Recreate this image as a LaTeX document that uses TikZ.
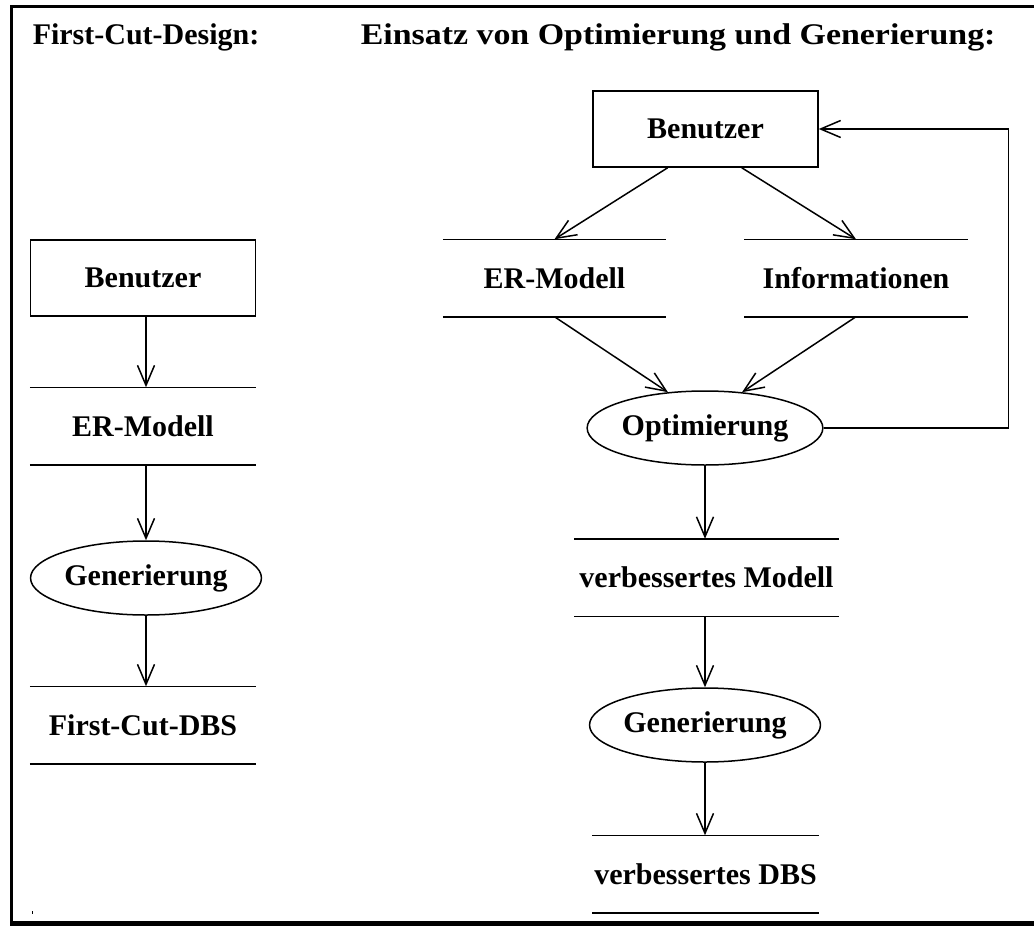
\documentclass[tikz,border=0pt]{standalone}
\usepackage{fontspec}
\usepackage{graphicx}
\setmainfont{Liberation Serif}
\usetikzlibrary{arrows.meta,shapes.geometric,calc}
\begin{document}
\begin{tikzpicture}[x=1pt,y=-1pt,
  font=\fontsize{30}{34}\selectfont\bfseries,
  line width=1.5pt,
  flow/.style={-{Straight Barb[length=20pt,width=17pt,line width=1.5pt]}},
  actor/.style={draw,rectangle,minimum width=225pt,minimum height=76pt,inner sep=0pt},
  process/.style={draw,ellipse,minimum width=224pt,minimum height=74pt,inner sep=0pt},
  store/.style={rectangle,minimum width=225pt,minimum height=76pt,inner sep=0pt},
  title/.style={anchor=base west,inner sep=0pt}]
\useasboundingbox (0,0) rectangle (1034,926);

% frame with shadowed bottom edge
\draw[line width=3pt] (1040,6) -- (11.5,6) -- (11.5,922);
\draw[line width=4.5pt] (10,923.5) -- (1040,923.5);
\fill (31.5,911) rectangle (33,914);

% headings
\node[title] (t1) at (32,45) {First-Cut-Design:};
\node[title] (t2) at (360,45) {\scalebox{1.13}[1]{Einsatz von Optimierung und Generierung:}};

% first-cut design chain
\node[actor]   (lb)  at (143,278) {Benutzer};
\node[store]   (ler) at (143,426) {ER-Modell};
\node[process] (lg)  at (146,578) {Generierung};
\node[store]   (ldb) at (143,725) {First-Cut-DBS};
\foreach \s in {ler,ldb}
  \draw (\s.north west) -- (\s.north east) (\s.south west) -- (\s.south east);
\draw[flow] (lb.south -| lg) -- (ler.north -| lg);
\draw[flow] (ler.south -| lg) -- (lg.north);
\draw[flow] (lg.south) -- (ldb.north -| lg);

% optimisation and generation chain
\node[actor]   (rb)  at (705.5,129) {Benutzer};
\node[store,minimum width=222pt] (rer) at (554.5,278) {ER-Modell};
\node[store,minimum width=222pt] (rin) at (856,278) {Informationen};
\node[process] (opt) at (705,428) {Optimierung};
\node[store,minimum width=263pt] (vm) at (706.5,577.5) {verbessertes Modell};
\node[process] (rg)  at (705,725) {Generierung};
\node[store] (vdb) at (705.5,874) {verbessertes DBS};
\foreach \s in {rer,rin,vm,vdb}
  \draw (\s.north west) -- (\s.north east) (\s.south west) -- (\s.south east);
\draw[flow] ($(rb.south west)!0.333!(rb.south east)$) -- (rer.north);
\draw[flow] ($(rb.south west)!0.66!(rb.south east)$) -- (rin.north);
\draw[flow] (rer.south) -- (opt.136);
\draw[flow] (rin.south) -- (opt.44);
\draw[flow] (opt.east) -- ++(185,0) coordinate (fb) |- (rb.east);
\draw[flow] (opt.south) -- (vm.north -| opt);
\draw[flow] (vm.south -| opt) -- (rg.north);
\draw[flow] (rg.south) -- (vdb.north -| rg);
\end{tikzpicture}
\end{document}
